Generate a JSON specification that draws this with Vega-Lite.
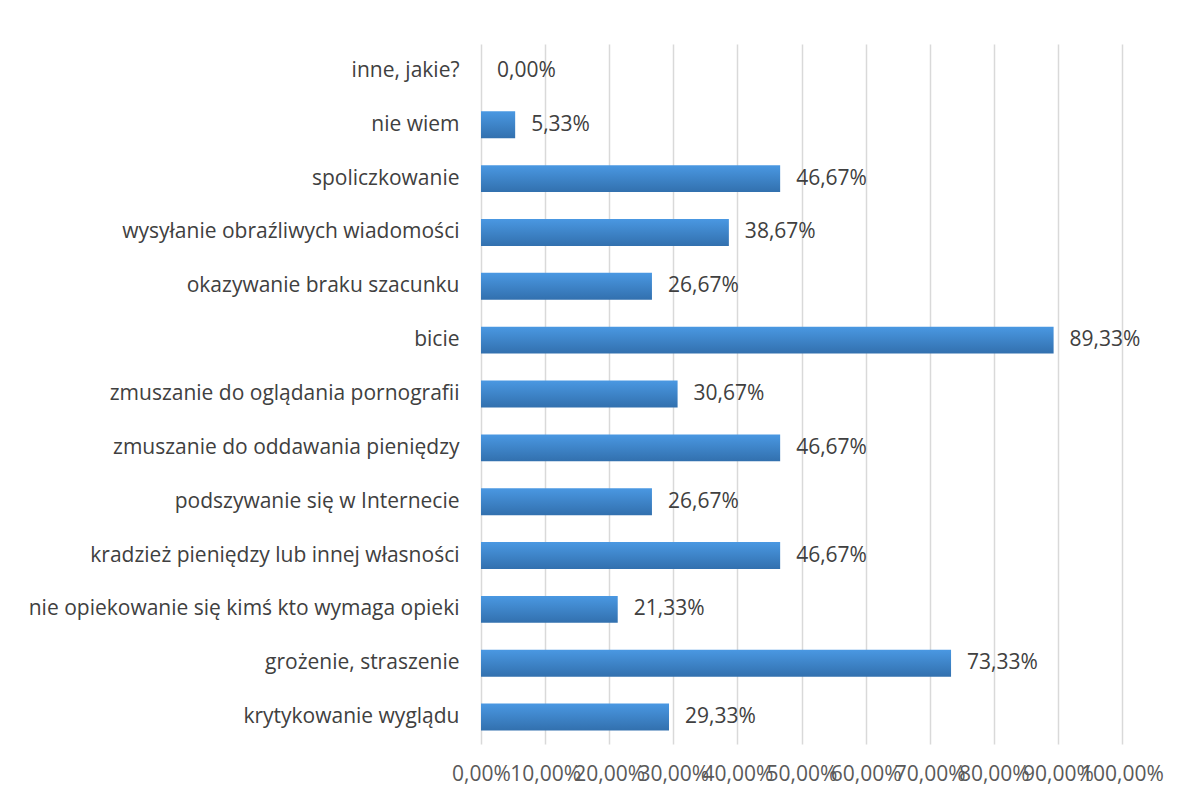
{
  "$schema": "https://vega.github.io/schema/vega-lite/v6.json",
  "autosize": {"type": "none"},
  "padding": {"left": 481, "top": 44, "right": 59, "bottom": 54},
  "width": 641,
  "height": 700,
  "background": "white",
  "data": {"values": [
    {"kategoria": "inne, jakie?", "wartosc": 0.0},
    {"kategoria": "nie wiem", "wartosc": 0.0533},
    {"kategoria": "spoliczkowanie", "wartosc": 0.4667},
    {"kategoria": "wysyłanie obraźliwych wiadomości", "wartosc": 0.3867},
    {"kategoria": "okazywanie braku szacunku", "wartosc": 0.2667},
    {"kategoria": "bicie", "wartosc": 0.8933},
    {"kategoria": "zmuszanie do oglądania pornografii", "wartosc": 0.3067},
    {"kategoria": "zmuszanie do oddawania pieniędzy", "wartosc": 0.4667},
    {"kategoria": "podszywanie się w Internecie", "wartosc": 0.2667},
    {"kategoria": "kradzież pieniędzy lub innej własności", "wartosc": 0.4667},
    {"kategoria": "nie opiekowanie się kimś kto wymaga opieki", "wartosc": 0.2133},
    {"kategoria": "grożenie, straszenie", "wartosc": 0.7333},
    {"kategoria": "krytykowanie wyglądu", "wartosc": 0.2933}
  ]},
  "encoding": {
    "y": {
      "field": "kategoria", "type": "nominal", "sort": null,
      "scale": {"paddingInner": 0.5, "paddingOuter": 0.25},
      "axis": {"title": null, "domain": false, "ticks": false, "labelPadding": 22, "labelFontSize": 21, "labelColor": "#404040", "labelFont": "Open Sans", "labelLimit": 500}
    },
    "x": {
      "field": "wartosc", "type": "quantitative",
      "scale": {"domain": [0, 1], "nice": false},
      "axis": {"title": null, "values": [0,0.1,0.2,0.3,0.4,0.5,0.6,0.7,0.8,0.9,1.0], "labelExpr": "replace(format(datum.value, '.2%'), '.', ',')", "domain": false, "ticks": false, "grid": true, "gridColor": "#d9d9d9", "gridWidth": 1.5, "labelPadding": 19, "labelFontSize": 21, "labelColor": "#595959", "labelFont": "Open Sans", "labelOverlap": false, "labelFlush": false}
    }
  },
  "layer": [
    {
      "mark": {"type": "bar", "color": {"gradient": "linear", "x1": 0, "y1": 0, "x2": 0, "y2": 1, "stops": [{"offset": 0, "color": "#4a98e2"}, {"offset": 1, "color": "#3270ae"}]}}
    },
    {
      "mark": {"type": "text", "align": "left", "baseline": "middle", "dx": 16, "fontSize": 21, "color": "#404040", "font": "Open Sans"},
      "encoding": {"text": {"field": "lab"}},
      "transform": [{"calculate": "replace(format(datum.wartosc, '.2%'), '.', ',')", "as": "lab"}]
    }
  ],
  "config": {"view": {"stroke": null}}
}
